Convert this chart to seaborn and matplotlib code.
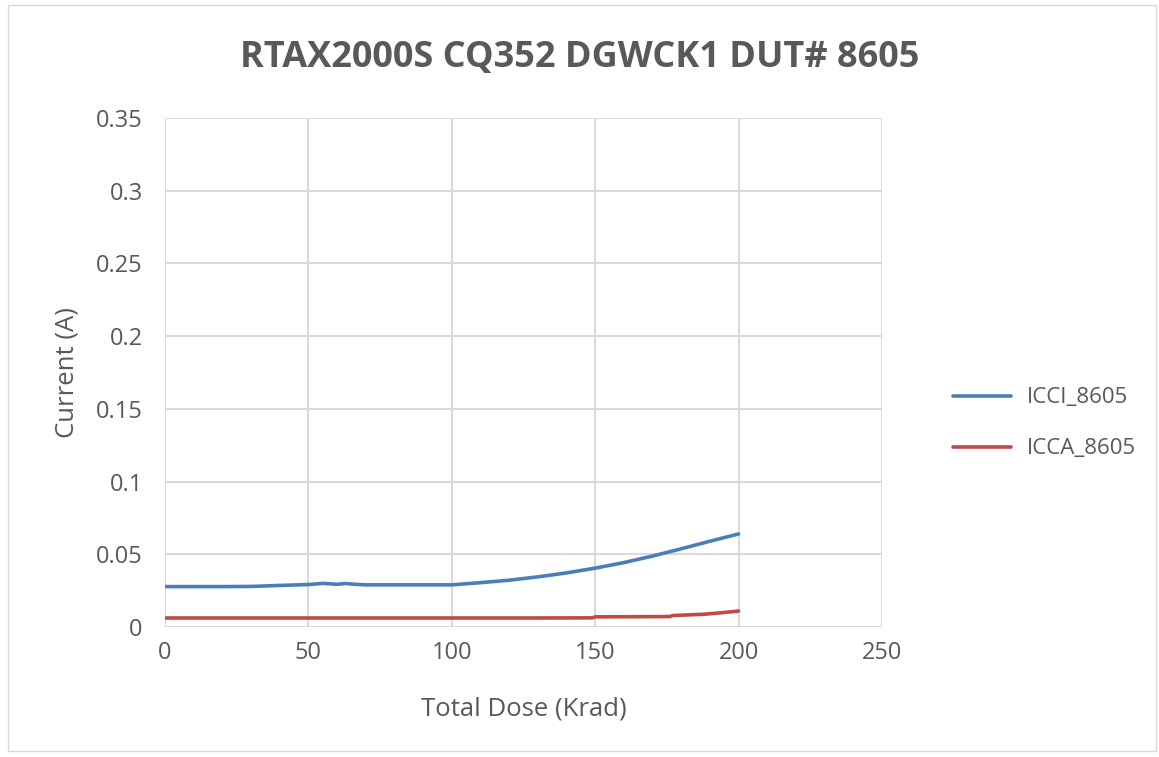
import pandas as pd
import numpy as np
import seaborn as sns
import matplotlib.pyplot as plt

# ---------- data ----------
dose_icci = [0, 10, 20, 30, 40, 50, 55, 60, 63, 66, 70, 80, 90, 100,
             110, 120, 130, 140, 150, 160, 170, 180, 190, 200]
icci = [0.0278, 0.0278, 0.0278, 0.0279, 0.0286, 0.0292, 0.0300, 0.0294,
        0.0299, 0.0294, 0.0290, 0.0290, 0.0290, 0.0290, 0.0305, 0.0322,
        0.0345, 0.0372, 0.0405, 0.0443, 0.0488, 0.0538, 0.0590, 0.0640]

dose_icca = [0, 25, 50, 75, 100, 125, 149, 150, 165, 176, 177, 188, 195, 200]
icca = [0.0062, 0.0062, 0.0062, 0.0062, 0.0062, 0.0062, 0.0063, 0.0070,
        0.0071, 0.0072, 0.0079, 0.0088, 0.0100, 0.0110]

series_names = ["ICCI_8605", "ICCA_8605"]
colors = ["#4a7ebb", "#be4b48"]

df = pd.concat([
    pd.DataFrame({"dose": dose_icci, "current": icci, "series": series_names[0]}),
    pd.DataFrame({"dose": dose_icca, "current": icca, "series": series_names[1]}),
])

sns.set_style("white")
plt.rcParams["font.family"] = ["Open Sans", "DejaVu Sans"]
txt = "#595959"

fig = plt.figure(figsize=(11.59, 7.57), dpi=100)
ax = fig.add_axes([0.1424, 0.1717, 0.6186, 0.6724])

sns.lineplot(
    data=df, x="dose", y="current", hue="series",
    hue_order=series_names, palette=colors,
    linewidth=2.6, estimator=None, sort=False, ax=ax,
)

ax.set_xlim(0, 250)
ax.set_ylim(0, 0.35)
ax.set_xticks(np.arange(0, 251, 50))
ax.set_yticks(np.arange(0, 0.351, 0.05))
ax.set_yticklabels(["0", "0.05", "0.1", "0.15", "0.2", "0.25", "0.3", "0.35"])
ax.grid(True, color="#d9d9d9", linewidth=1.4)
ax.set_axisbelow(True)
for s in ax.spines.values():
    s.set_visible(False)
ax.tick_params(length=0, labelsize=17, labelcolor=txt)
ax.tick_params(axis="y", pad=16)
ax.tick_params(axis="x", pad=10)

ax.set_xlabel("Total Dose (Krad)", fontsize=18.5, color=txt, labelpad=23)
ax.set_ylabel("Current (A)", fontsize=18.5, color=txt, labelpad=12)
fig.suptitle("RTAX2000S CQ352 DGWCK1 DUT# 8605", fontsize=26,
             fontweight="bold", color=txt, y=0.924, va="center")

leg = ax.legend(loc="center left", bbox_to_anchor=(1.071, 0.40), frameon=False,
                fontsize=16, handlelength=2.6, labelspacing=1.35, handletextpad=0.75)
for t in leg.get_texts():
    t.set_color(txt)

# thin border round the chart area
fig.patches.append(plt.Rectangle((0.007, 0.008), 0.99, 0.985, transform=fig.transFigure,
                                 fill=False, edgecolor="#d9d9d9", linewidth=1))

fig.savefig("out.png", dpi=100)
